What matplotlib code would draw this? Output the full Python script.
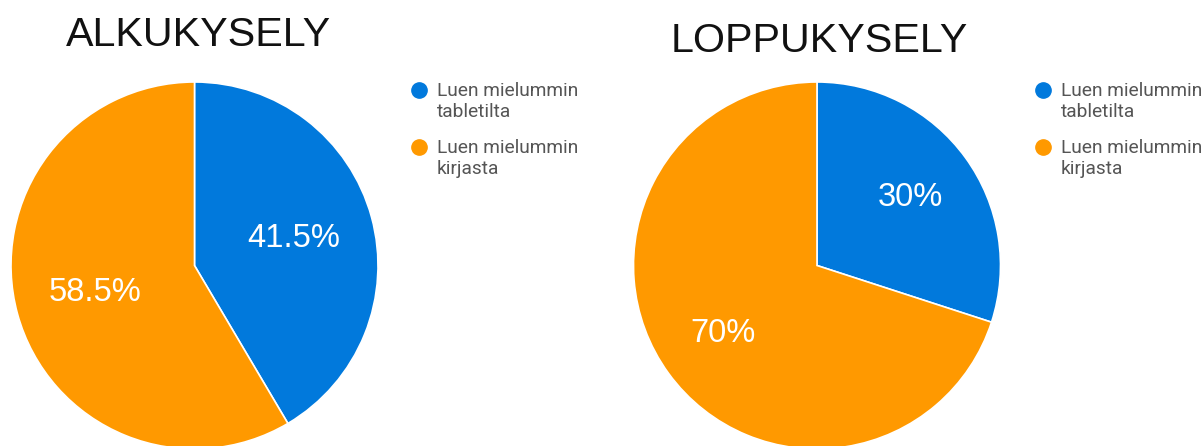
import matplotlib.pyplot as plt
from matplotlib.lines import Line2D

W, H = 1203, 446

titles = ["ALKUKYSELY", "LOPPUKYSELY"]
labels = ["Luen mielummin\ntabletilta", "Luen mielummin\nkirjasta"]
alku = [41.5, 58.5]
loppu = [30, 70]
colors = ["#0179dc", "#ff9900"]


def px_axes(fig, cx, cy, r):
    # pixel box (origin top-left) -> figure fraction
    return fig.add_axes([(cx - r) / W, (H - cy - r) / H, 2 * r / W, 2 * r / H])


def draw_pie(fig, values, title, cx, cy, r, pctdist, title_x, title_y, legend_x):
    ax = px_axes(fig, cx, cy, r)
    ax.pie(values, colors=colors, startangle=90, counterclock=False,
           autopct=lambda p: f"{p:g}%", pctdistance=pctdist, radius=1,
           wedgeprops=dict(edgecolor="white", linewidth=1.2),
           textprops=dict(color="white", fontsize=23.5, family="Liberation Sans"))
    ax.set_xlim(-1, 1)
    ax.set_ylim(-1, 1)
    ax.set_aspect("equal")
    ax.axis("off")
    fig.text(title_x / W, 1 - title_y / H, title, ha="center", va="baseline",
             fontsize=29.7, family="Liberation Sans", color="#111111")
    # legend: circle marker beside the first line of each label
    for i, (lab, c) in enumerate(zip(labels, colors)):
        y = 90 + 57 * i
        fig.add_artist(Line2D([legend_x / W], [1 - y / H], marker="o",
                              markersize=11, markerfacecolor=c,
                              markeredgecolor=c, linestyle="none",
                              transform=fig.transFigure))
        fig.text((legend_x + 18) / W, 1 - (y - 8) / H, lab, ha="left",
                 va="top", fontsize=13.8, family="Roboto", color="#555555",
                 linespacing=1.2)


fig = plt.figure(figsize=(W / 100, H / 100), dpi=100)
draw_pie(fig, alku, titles[0], 194.5, 265.5, 183.5, 0.56, 198.5, 46, 419)
draw_pie(fig, loppu, titles[1], 817, 265.5, 183.5, 0.63, 819, 52, 1043)
fig.savefig("out.png", dpi=100)
